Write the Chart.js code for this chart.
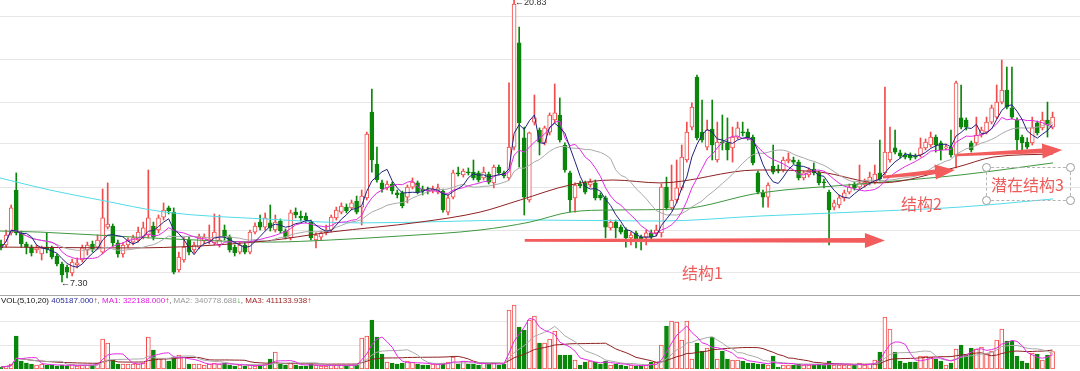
<!DOCTYPE html>
<html>
<head>
<meta charset="utf-8">
<script src="https://cdn.jsdelivr.net/npm/chart.js@4.4.0/dist/chart.umd.min.js"></script>
<style>
  html, body { margin: 0; padding: 0; background: #fff; }
  #page { position: relative; width: 1080px; height: 371px; overflow: hidden; font-family: "Liberation Sans", Arial, sans-serif; }
  #priceBox { position: absolute; left: 0; top: 0; width: 1080px; height: 295px; }
  #divider { position: absolute; left: 0; top: 295px; width: 1080px; height: 1px; background: #a8a8a8; }
  #volBox { position: absolute; left: 0; top: 296px; width: 1080px; height: 75px; }
  .tag { position: absolute; font-size: 9px; line-height: 10px; color: #333; white-space: nowrap; }
  .note { position: absolute; font-family: "Noto Sans CJK SC", sans-serif; font-size: 16px; line-height: 16px; color: #ef5b5b; white-space: nowrap; }
  #volLegend { position: absolute; left: 1px; top: 296px; font-size: 8px; line-height: 10px; white-space: nowrap; color: #555; }
  #box3 { position: absolute; left: 986px; top: 167px; width: 83px; height: 32px; border: 1px dashed #b4b4b4; }
  .handle { position: absolute; width: 7px; height: 7px; border: 1px solid #9a9a9a; border-radius: 50%; background: #fff; }
</style>
</head>
<body>
<div id="page">
  <div id="priceBox"><canvas id="priceChart"></canvas></div>
  <div id="divider"></div>
  <div id="volBox"><canvas id="volChart"></canvas></div>

  <div class="tag" style="left:515px; top:-3px;">←20.83</div>
  <div class="tag" style="left:61px; top:278px;">←7.30</div>

  <div id="volLegend"><span style="color:#111">VOL(5,10,20)</span> <span style="color:#2b2b9a">405187.000</span><span style="color:#e01010">↑</span>, <span style="color:#e020e0">MA1: 322188.000</span><span style="color:#e01010">↑</span>, <span style="color:#999">MA2: 340778.688</span><span style="color:#109010">↓</span>, <span style="color:#9a1c1c">MA3: 411133.938</span><span style="color:#e01010">↑</span></div>

  <div class="note" style="left:682px; top:264px;">结构1</div>
  <div class="note" style="left:901px; top:195px;">结构2</div>
  <div id="box3"></div>
  <div class="handle" style="left:982px; top:163px;"></div>
  <div class="handle" style="left:1066px; top:163px;"></div>
  <div class="handle" style="left:982px; top:196px;"></div>
  <div class="handle" style="left:1066px; top:196px;"></div>
  <div class="note" style="left:991px; top:176px;">潜在结构3</div>
</div>

<script>
// daily candles (index 0 = leftmost)
const opens = [
  9.12, 9.07, 9.65, 11.71, 9.65, 9.12, 8.97, 8.83, 8.64, 8.97,
  8.93, 8.54, 8.16, 8.01, 7.73, 8.11, 8.35, 8.83, 9.12, 8.97,
  8.73, 9.93, 9.98, 9.17, 8.64, 9.07, 9.21, 9.31, 9.45, 9.55,
  9.98, 9.79, 10.41, 10.85, 10.65, 7.87, 8.35, 9.31, 8.83, 8.97,
  9.26, 9.26, 9.17, 9.07, 9.79, 9.45, 8.97, 8.73, 9.07, 8.73,
  9.69, 10.17, 9.93, 10.13, 9.79, 10.22, 9.74, 9.41, 10.65, 10.46,
  10.46, 10.17, 9.31, 9.45, 9.65, 9.79, 10.37, 10.65, 10.89, 10.85,
  11.18, 10.89, 11.33, 15.45, 12.96, 12.05, 11.81, 12.00, 11.57, 11.57,
  11.37, 11.85, 12.05, 11.76, 11.71, 11.66, 11.61, 11.66, 10.65, 11.37,
  12.53, 12.43, 12.57, 12.57, 12.53, 12.29, 12.48, 12.05, 12.81, 12.53,
  12.29, 13.77, 18.77, 14.21, 11.23, 14.97, 14.59, 13.97, 14.49, 15.07,
  15.31, 13.87, 12.53, 11.33, 12.00, 12.05, 11.95, 12.05, 11.47, 11.33,
  9.89, 10.17, 9.93, 9.79, 9.41, 9.65, 9.45, 9.45, 9.65, 9.65,
  9.65, 11.85, 10.85, 11.23, 11.81, 13.15, 14.73, 17.13, 14.49, 13.77,
  14.64, 13.15, 14.01, 13.97, 13.73, 14.25, 14.49, 14.49, 14.25, 12.53,
  11.57, 11.37, 12.86, 12.72, 12.67, 13.10, 13.15, 13.05, 12.29, 12.43,
  12.72, 12.53, 12.09, 11.61, 10.89, 10.99, 11.33, 11.61, 12.00, 11.85,
  11.95, 12.05, 12.09, 12.53, 12.53, 13.15, 13.73, 13.49, 13.39, 13.39,
  13.34, 13.39, 13.73, 13.87, 14.25, 13.97, 13.73, 13.77, 13.39, 15.17,
  15.07, 13.97, 13.97, 14.35, 14.49, 14.97, 15.21, 15.93, 16.51, 15.65,
  15.07, 14.25, 14.01, 13.97, 14.93, 14.69, 15.07, 14.73
];
const highs = [
  9.31, 9.79, 10.99, 12.53, 9.74, 9.21, 9.07, 9.07, 9.02, 9.65,
  9.02, 8.64, 8.25, 8.11, 8.40, 8.45, 9.07, 9.21, 9.26, 9.55,
  11.76, 12.05, 10.08, 9.31, 9.17, 9.41, 9.55, 9.93, 10.17, 12.67,
  10.17, 10.51, 11.09, 10.94, 10.85, 8.73, 9.45, 9.45, 9.21, 9.60,
  9.60, 10.03, 10.56, 10.51, 10.03, 9.55, 9.07, 9.21, 9.21, 9.79,
  10.13, 10.51, 10.61, 10.99, 10.51, 10.32, 9.84, 10.75, 10.85, 10.70,
  10.61, 10.27, 9.65, 9.74, 10.03, 10.51, 10.89, 11.09, 11.04, 11.23,
  11.42, 11.71, 14.49, 16.56, 13.77, 12.19, 12.14, 12.09, 11.71, 11.66,
  11.95, 12.29, 12.14, 11.90, 11.85, 11.90, 12.00, 11.76, 11.47, 12.67,
  12.81, 12.72, 12.77, 13.15, 12.62, 12.81, 12.57, 12.91, 12.91, 12.62,
  16.85, 20.83, 19.53, 14.73, 14.49, 16.27, 14.69, 14.78, 15.41, 16.80,
  16.13, 13.97, 12.62, 12.05, 12.14, 12.14, 12.24, 12.19, 11.57, 11.42,
  10.27, 10.27, 10.03, 9.89, 9.69, 9.74, 9.55, 9.79, 9.79, 10.03,
  12.00, 12.33, 12.91, 13.15, 13.87, 14.97, 15.89, 17.23, 16.03, 15.07,
  16.03, 14.97, 15.31, 15.17, 14.73, 14.97, 14.97, 14.64, 14.35, 12.62,
  11.71, 12.05, 13.87, 12.91, 13.29, 13.49, 13.29, 13.15, 12.62, 12.77,
  13.01, 12.62, 12.24, 11.71, 11.23, 11.47, 11.71, 12.00, 12.09, 12.91,
  12.24, 12.57, 12.91, 14.11, 16.65, 14.73, 14.59, 13.63, 13.49, 13.49,
  13.44, 14.21, 14.16, 14.49, 14.35, 14.06, 13.92, 14.59, 16.94, 16.75,
  15.17, 14.06, 15.21, 14.73, 15.21, 15.79, 16.75, 17.95, 17.61, 17.61,
  15.17, 14.35, 14.21, 15.21, 15.02, 15.45, 15.93, 15.45
];
const lows = [
  8.83, 8.97, 9.55, 9.55, 8.97, 8.64, 8.54, 8.69, 8.35, 8.69,
  8.40, 8.06, 7.30, 7.49, 7.58, 7.97, 8.25, 8.59, 8.73, 8.88,
  8.64, 9.84, 9.02, 8.49, 8.49, 8.93, 9.07, 9.21, 9.36, 9.41,
  9.31, 9.65, 10.27, 10.56, 7.68, 7.77, 8.25, 8.59, 8.69, 8.88,
  9.12, 9.12, 9.07, 8.97, 9.31, 8.73, 8.54, 8.64, 8.64, 8.64,
  9.60, 9.79, 9.79, 9.74, 9.69, 9.65, 9.36, 9.31, 10.37, 10.22,
  10.13, 9.31, 8.93, 9.31, 9.55, 9.69, 10.27, 10.56, 10.61, 10.75,
  10.56, 10.03, 11.23, 12.57, 12.09, 11.61, 11.71, 11.52, 11.33, 10.85,
  11.09, 11.76, 11.52, 11.47, 11.52, 11.57, 11.52, 10.65, 10.51, 11.28,
  12.38, 12.33, 12.43, 12.19, 12.09, 12.19, 12.00, 11.81, 12.43, 12.29,
  12.19, 13.63, 12.81, 10.51, 11.13, 14.83, 13.39, 13.87, 14.35, 14.93,
  14.01, 12.57, 10.65, 10.65, 11.81, 11.52, 11.85, 11.23, 11.23, 9.41,
  9.79, 9.41, 9.60, 8.97, 9.07, 8.93, 8.83, 9.07, 9.31, 9.50,
  9.45, 10.75, 10.75, 11.09, 11.71, 13.05, 14.59, 14.11, 14.01, 13.63,
  13.15, 13.05, 13.63, 13.15, 13.05, 14.16, 14.30, 14.11, 12.91, 11.52,
  10.89, 10.89, 12.48, 12.53, 12.57, 13.01, 12.96, 12.19, 12.19, 12.33,
  12.43, 11.95, 11.81, 9.07, 10.75, 10.85, 11.18, 11.52, 11.71, 11.76,
  11.85, 11.95, 12.00, 12.14, 12.43, 13.05, 13.44, 13.25, 13.20, 13.15,
  13.20, 13.29, 13.63, 13.77, 13.53, 13.15, 13.63, 13.29, 12.77, 14.64,
  14.59, 13.53, 13.87, 14.25, 14.40, 14.88, 15.12, 15.84, 15.60, 15.12,
  13.63, 13.63, 13.68, 13.87, 14.35, 14.59, 14.25, 14.64
];
const closes = [
  8.93, 9.55, 10.85, 9.65, 9.12, 8.97, 8.69, 8.93, 8.93, 8.88,
  8.49, 8.16, 7.63, 7.77, 8.25, 8.21, 8.93, 9.07, 8.88, 9.31,
  10.37, 10.08, 9.17, 8.64, 9.07, 9.31, 9.41, 9.69, 9.89, 10.37,
  9.45, 10.37, 10.75, 10.70, 7.77, 8.49, 8.97, 8.73, 9.07, 9.45,
  9.45, 9.36, 9.69, 9.31, 9.45, 8.83, 8.69, 9.07, 8.73, 9.69,
  9.98, 9.93, 10.37, 9.89, 10.17, 9.74, 9.45, 10.61, 10.51, 10.37,
  10.27, 9.41, 9.55, 9.65, 9.79, 10.41, 10.75, 10.94, 10.70, 11.09,
  10.65, 11.42, 14.40, 13.15, 12.19, 11.76, 12.00, 11.66, 11.47, 10.94,
  11.85, 12.09, 11.61, 11.66, 11.66, 11.76, 11.81, 10.75, 11.33, 12.53,
  12.48, 12.62, 12.53, 12.29, 12.19, 12.57, 12.09, 12.81, 12.53, 12.38,
  13.77, 20.64, 14.93, 11.37, 14.45, 15.17, 14.01, 14.69, 15.31, 15.41,
  14.11, 12.67, 11.23, 11.95, 11.90, 11.61, 12.09, 11.33, 11.33, 9.93,
  10.17, 9.89, 9.69, 9.41, 9.55, 9.31, 9.31, 9.65, 9.45, 9.79,
  11.85, 10.85, 11.23, 11.81, 13.29, 14.49, 15.69, 14.21, 14.11, 14.59,
  13.87, 14.01, 13.97, 13.63, 14.25, 14.69, 14.45, 14.21, 13.01, 11.61,
  11.37, 11.95, 12.57, 12.62, 13.15, 13.20, 13.05, 12.29, 12.53, 12.67,
  12.53, 12.05, 12.05, 10.75, 11.09, 11.33, 11.57, 11.85, 11.81, 12.05,
  12.09, 12.33, 12.48, 12.24, 13.53, 13.53, 13.53, 13.34, 13.29, 13.25,
  13.29, 13.73, 14.01, 14.25, 13.87, 13.63, 13.77, 13.39, 16.85, 14.73,
  14.73, 13.63, 14.35, 14.59, 14.97, 15.65, 15.93, 16.51, 15.69, 15.21,
  14.11, 13.97, 13.77, 14.69, 14.45, 15.07, 14.83, 15.21
];
const volumes = [
  46000, 69000, 116000, 764000, 185000, 139000, 116000, 93000, 116000, 93000,
  93000, 69000, 93000, 69000, 116000, 69000, 93000, 93000, 93000, 139000,
  695000, 602000, 208000, 116000, 116000, 116000, 116000, 116000, 139000, 741000,
  440000, 255000, 255000, 185000, 278000, 324000, 278000, 116000, 116000, 116000,
  93000, 116000, 139000, 116000, 139000, 93000, 69000, 93000, 69000, 93000,
  69000, 93000, 116000, 232000, 394000, 116000, 93000, 139000, 93000, 69000,
  69000, 116000, 93000, 69000, 69000, 93000, 93000, 93000, 69000, 93000,
  93000, 718000, 764000, 1134000, 741000, 347000, 162000, 139000, 116000, 139000,
  185000, 162000, 116000, 93000, 93000, 116000, 116000, 139000, 162000, 278000,
  116000, 185000, 116000, 116000, 93000, 139000, 116000, 139000, 93000, 116000,
  1366000, 1482000, 972000, 903000, 1134000, 1227000, 602000, 602000, 695000, 880000,
  324000, 324000, 324000, 208000, 93000, 162000, 185000, 162000, 116000, 185000,
  93000, 116000, 93000, 69000, 93000, 69000, 69000, 93000, 162000, 162000,
  556000, 995000, 1111000, 1088000, 671000, 1111000, 232000, 602000, 417000, 486000,
  741000, 232000, 417000, 232000, 208000, 208000, 185000, 139000, 139000, 116000,
  116000, 93000, 301000, 46000, 93000, 93000, 93000, 116000, 93000, 93000,
  93000, 116000, 93000, 185000, 93000, 93000, 93000, 93000, 93000, 139000,
  93000, 116000, 208000, 394000, 1204000, 926000, 394000, 185000, 139000, 162000,
  162000, 301000, 301000, 278000, 232000, 185000, 93000, 139000, 463000, 556000,
  324000, 486000, 463000, 509000, 370000, 417000, 671000, 926000, 648000, 648000,
  301000, 185000, 139000, 370000, 347000, 208000, 324000, 405187
];

// long moving averages, read as key points (candle index, price)
const cyanIdx  = [-0.2, 9.6, 19.5, 32.3, 52.0, 70.7, 104.1, 129.7, 149.4, 173.0, 188.8, 207.1];
const cyanVal  = [12.29, 11.71, 11.23, 10.65, 10.32, 10.13, 10.27, 10.22, 10.46, 10.70, 10.89, 11.28];
const brownIdx = [-0.2, 25.4, 52.0, 64.8, 82.5, 94.3, 102.2, 112.0, 120.5, 129.7, 148.8, 161.2, 173.0, 188.2, 195.3, 207.1];
const brownVal = [8.97, 8.93, 9.26, 9.69, 10.17, 10.65, 11.23, 11.95, 12.19, 12.05, 12.67, 12.57, 12.05, 12.81, 13.29, 13.44];
const greenIdx = [-0.2, 7.7, 29.3, 53.0, 64.8, 78.5, 94.3, 104.1, 112.0, 120.5, 133.7, 149.4, 169.1, 188.8, 207.1];
const greenVal = [9.74, 9.69, 9.41, 9.21, 9.31, 9.50, 9.79, 10.17, 10.65, 10.75, 10.80, 11.57, 12.00, 12.43, 13.01];

// horizontal grid levels of the price panel and the volume panel
const priceGrid = [7.73, 9.79, 11.85, 13.92, 15.93, 17.99, 20.06];
const volumeGrid = [544000, 1088000];

// hand drawn arrows (candle index, price)
const structureArrows = [
  { from: [103.1, 9.29], to: [174.0, 9.29] },
  { from: [173.6, 12.33], to: [187.8, 12.67] },
  { from: [188.2, 13.39], to: [208.9, 13.63] }
];

const upColor = '#f24b4b';
const downColor = '#0a870a';

function movingAverage(values, n) {
  return values.map((_, i) => {
    const win = values.slice(Math.max(0, i - n + 1), i + 1);
    return win.reduce((a, b) => a + b, 0) / win.length;
  });
}
const asPoints = arr => arr.map((v, i) => ({ x: i, y: v }));
const keyPoints = (idx, val) => idx.map((x, i) => ({ x: x, y: val[i] }));
const isUp = i => closes[i] >= opens[i];

const xRange = { type: 'linear', min: -0.2, max: 212.4, offset: false, display: false };

function lineSet(data, color, smooth) {
  return {
    type: 'line', data: data, borderColor: color, borderWidth: 1,
    pointRadius: 0, fill: false, order: 0,
    cubicInterpolationMode: smooth ? 'monotone' : 'default', tension: 0
  };
}

const arrowPlugin = {
  id: 'structureArrows',
  afterDatasetsDraw(chart) {
    const { ctx, scales: { x, y } } = chart;
    structureArrows.forEach(a => {
      const x0 = x.getPixelForValue(a.from[0]), y0 = y.getPixelForValue(a.from[1]);
      const x1 = x.getPixelForValue(a.to[0]), y1 = y.getPixelForValue(a.to[1]);
      const len = Math.hypot(x1 - x0, y1 - y0);
      const head = 20, half = 7.5;
      ctx.save();
      ctx.translate(x0, y0);
      ctx.rotate(Math.atan2(y1 - y0, x1 - x0));
      ctx.fillStyle = '#f25c5c';
      ctx.beginPath();
      ctx.moveTo(0, -1.3);
      ctx.lineTo(len - head, -2.4);
      ctx.lineTo(len - head, -half);
      ctx.lineTo(len, 0);
      ctx.lineTo(len - head, half);
      ctx.lineTo(len - head, 2.4);
      ctx.lineTo(0, 1.3);
      ctx.closePath();
      ctx.fill();
      ctx.restore();
    });
  }
};

const bodies = opens.map((o, i) => ({ x: i, y: [o, closes[i]] }));
const wicks = highs.map((h, i) => ({ x: i, y: [lows[i], h] }));

new Chart(document.getElementById('priceChart').getContext('2d'), {
  type: 'bar',
  data: {
    datasets: [
      lineSet(asPoints(movingAverage(closes, 5)), '#22227f', false),
      lineSet(asPoints(movingAverage(closes, 10)), '#e22ce2', false),
      lineSet(asPoints(movingAverage(closes, 20)), '#a9a9a9', false),
      lineSet(keyPoints(brownIdx, brownVal), '#8e2222', true),
      lineSet(keyPoints(greenIdx, greenVal), '#3f973f', true),
      lineSet(keyPoints(cyanIdx, cyanVal), '#52dbe8', true),
      {
        data: bodies, grouped: false, barThickness: 4, borderWidth: 1,
        borderSkipped: false, minBarLength: 1, order: 1,
        backgroundColor: c => isUp(c.dataIndex) ? '#ffffff' : downColor,
        borderColor: c => isUp(c.dataIndex) ? upColor : downColor
      },
      {
        data: wicks, grouped: false, barThickness: 1, borderWidth: 0, order: 2,
        backgroundColor: c => isUp(c.dataIndex) ? upColor : downColor
      }
    ]
  },
  options: {
    responsive: true,
    maintainAspectRatio: false,
    animation: false,
    layout: { padding: 0 },
    plugins: { legend: { display: false }, tooltip: { enabled: false } },
    scales: {
      x: xRange,
      y: {
        min: 6.67, max: 20.83,
        border: { display: false },
        grid: { color: '#e6e6e6', drawTicks: false },
        ticks: { display: false },
        afterBuildTicks: axis => { axis.ticks = priceGrid.map(v => ({ value: v })); }
      }
    }
  },
  plugins: [arrowPlugin]
});

new Chart(document.getElementById('volChart').getContext('2d'), {
  type: 'bar',
  data: {
    datasets: [
      lineSet(asPoints(movingAverage(volumes, 5)), '#e22ce2', false),
      lineSet(asPoints(movingAverage(volumes, 10)), '#a9a9a9', false),
      lineSet(asPoints(movingAverage(volumes, 20)), '#8e2222', false),
      {
        data: asPoints(volumes), grouped: false, barThickness: 4, borderWidth: 1,
        borderSkipped: false, order: 1,
        backgroundColor: c => isUp(c.dataIndex) ? '#ffffff' : downColor,
        borderColor: c => isUp(c.dataIndex) ? upColor : downColor
      }
    ]
  },
  options: {
    responsive: true,
    maintainAspectRatio: false,
    animation: false,
    layout: { padding: { top: 4, bottom: 2, left: 0, right: 0 } },
    plugins: { legend: { display: false }, tooltip: { enabled: false } },
    scales: {
      x: xRange,
      y: {
        min: 0, max: 1597000,
        border: { display: false },
        grid: { color: '#e6e6e6', drawTicks: false },
        ticks: { display: false },
        afterBuildTicks: axis => { axis.ticks = volumeGrid.map(v => ({ value: v })); }
      }
    }
  }
});
</script>
</body>
</html>
